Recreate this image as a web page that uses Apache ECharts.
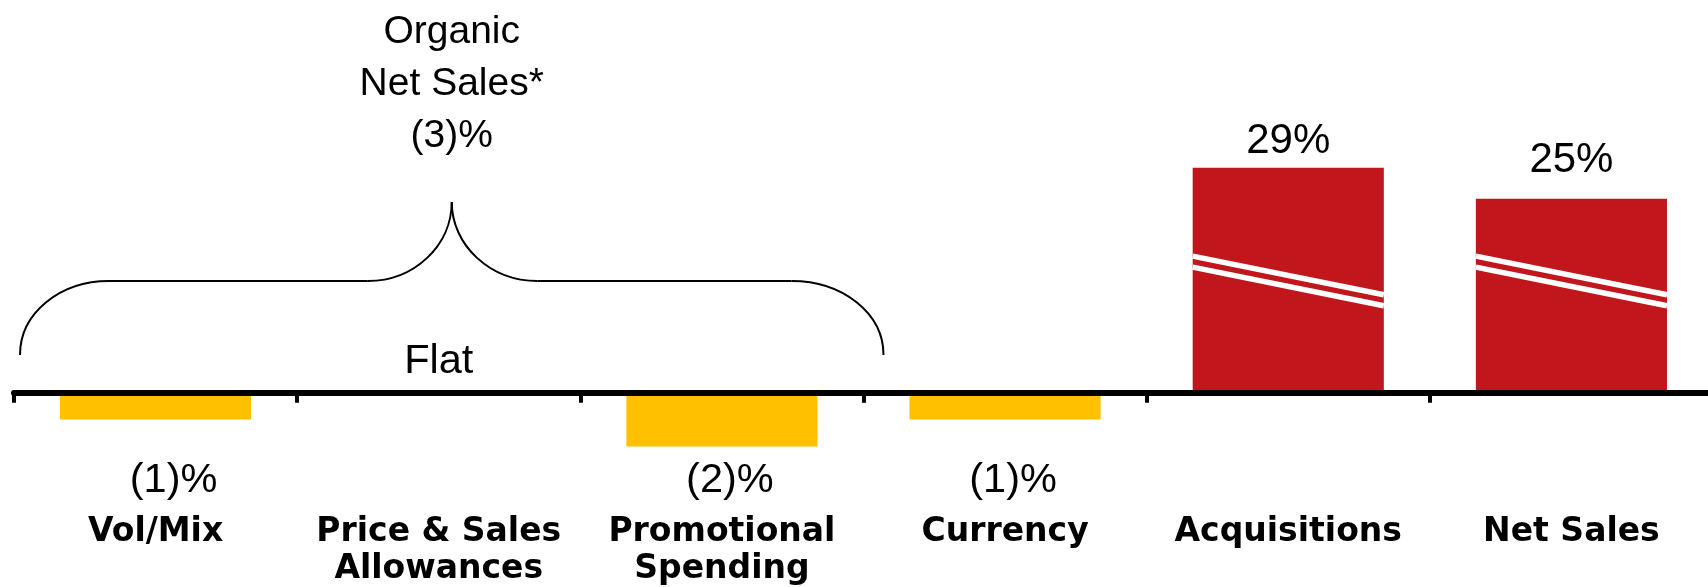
<!DOCTYPE html>
<html>
<head>
<meta charset="utf-8">
<title>Net Sales Bridge</title>
<script src="https://cdn.jsdelivr.net/npm/echarts@6/dist/echarts.min.js"></script>
<style>
  html, body { margin: 0; padding: 0; background: #ffffff; }
  #chart { width: 1708px; height: 587px; }
</style>
</head>
<body>
<div id="chart"></div>
<script>
// ---- data -------------------------------------------------------------
const categories = [
  'Vol/Mix',
  'Price & Sales\nAllowances',
  'Promotional\nSpending',
  'Currency',
  'Acquisitions',
  'Net Sales'
];
// Organic drivers and currency, percent change (yellow bars)
const organicChange = [-1, 0, -2, -1, null, null];
// Acquisitions and total net sales, percent change (red bars, broken scale)
const reportedChange = [null, null, null, null, 29, 25];
// Categories gathered under the "Organic Net Sales" brace
const organicGroup = [0, 1, 2];

// ---- styling ----------------------------------------------------------
const REGULAR = '"Liberation Sans", Arial, sans-serif';
const BOLD = '"DejaVu Sans", sans-serif';
const BAR_GAP = 0.325;          // share of each band left empty
const BREAK_AT = 17.6;          // where the scale-break stripes start on the red scale
const organicLabelShift = [18, 0, 8, 8, 0, 0];   // horizontal nudge of value labels
const reportedLabelLift = [0, 0, 0, 0, -26, -38]; // value label height above bar top

function pct(v) {
  if (v === 0) return 'Flat';
  return v < 0 ? '(' + (-v) + ')%' : v + '%';
}

const organicTotal = organicGroup.reduce((s, i) => s + organicChange[i], 0);

// white double stripe across a red bar, marking the broken scale
function renderBreak(params, api) {
  const idx = api.value(0);
  const band = api.size([1, 0])[0];
  const w = band * (1 - BAR_GAP);
  const cx = api.coord([idx, 0])[0];
  const x0 = cx - w / 2;
  const x1 = cx + w / 2;
  const y0 = api.coord([idx, BREAK_AT])[1];
  const drop = w * 0.202;
  const stripe = dy => ({
    type: 'line',
    shape: { x1: x0, y1: y0 + dy, x2: x1, y2: y0 + dy + drop },
    style: { stroke: '#ffffff', lineWidth: 5.5 }
  });
  return { type: 'group', children: [stripe(0), stripe(11)] };
}

const chart = echarts.init(document.getElementById('chart'), null, { renderer: 'canvas' });

const option = {
  backgroundColor: '#ffffff',
  animation: false,
  grid: {
    left: 14, right: -5, top: 71, bottom: 87,
    containLabel: false,
    outerBoundsMode: 'none'
  },
  xAxis: {
    type: 'category',
    data: categories,
    boundaryGap: true,
    z: 10,
    axisLine: { show: true, onZero: true, lineStyle: { color: '#000000', width: 6 } },
    axisTick: { show: true, length: 10, lineStyle: { color: '#000000', width: 4 } },
    axisLabel: {
      interval: 0,
      margin: 14,
      color: '#000000',
      fontFamily: BOLD,
      fontWeight: 'bold',
      fontSize: 33,
      lineHeight: 37
    },
    splitLine: { show: false }
  },
  yAxis: [
    { type: 'value', min: -4, max: 12, show: false, splitLine: { show: false } },
    { type: 'value', min: -13.82, max: 41.46, show: false, splitLine: { show: false } }
  ],
  series: [
    {
      name: 'Organic',
      type: 'bar',
      yAxisIndex: 0,
      barCategoryGap: (BAR_GAP * 100) + '%',
      barGap: '-100%',
      itemStyle: { color: '#FFC000' },
      label: {
        show: true,
        position: ['50%', 88],
        align: 'center',
        verticalAlign: 'middle',
        formatter: p => pct(p.value),
        fontFamily: REGULAR,
        fontSize: 41.5,
        color: '#000000'
      },
      data: organicChange.map((v, i) => {
        if (v == null) return v;
        if (v === 0) return { value: v, label: { position: ['50%', -31] } };
        return { value: v, label: { offset: [organicLabelShift[i], 0] } };
      })
    },
    {
      name: 'Reported',
      type: 'bar',
      yAxisIndex: 1,
      barCategoryGap: (BAR_GAP * 100) + '%',
      barGap: '-100%',
      itemStyle: { color: '#C1161C' },
      label: {
        show: true,
        align: 'center',
        verticalAlign: 'middle',
        formatter: p => pct(p.value),
        fontFamily: REGULAR,
        fontSize: 42,
        color: '#000000'
      },
      data: reportedChange.map((v, i) => v == null ? v
        : { value: v, label: { position: ['50%', reportedLabelLift[i]] } })
    },
    {
      name: 'Scale break',
      type: 'custom',
      yAxisIndex: 1,
      silent: true,
      clip: false,
      z: 5,
      encode: { x: 0, y: 1 },
      renderItem: renderBreak,
      data: reportedChange
        .map((v, i) => (v == null ? null : [i, v]))
        .filter(d => d !== null)
    }
  ]
};

chart.setOption(option);

// brace and heading over the organic categories, placed from the category axis
const first = organicGroup[0];
const last = organicGroup[organicGroup.length - 1];
const px = i => chart.convertToPixel({ xAxisIndex: 0 }, i);
const band = px(1) - px(0);
const bL = px(first) - band / 2 + 6;
const bR = px(last) + band / 2 + 20;
const tip = (bL + bR) / 2;
const yEnd = 355, yBar = 281, yTip = 202;
const braceStyle = { fill: null, stroke: '#000000', lineWidth: 2 };
const curve = (x1, y1, c1x, c1y, c2x, c2y, x2, y2) => ({
  type: 'bezierCurve', silent: true,
  shape: { x1: x1, y1: y1, cpx1: c1x, cpy1: c1y, cpx2: c2x, cpy2: c2y, x2: x2, y2: y2 },
  style: braceStyle
});
const segment = (x1, y1, x2, y2) => ({
  type: 'line', silent: true,
  shape: { x1: x1, y1: y1, x2: x2, y2: y2 },
  style: braceStyle
});

chart.setOption({
  title: {
    text: 'Organic\nNet Sales*\n' + pct(organicTotal),
    left: tip,
    top: 6,
    textAlign: 'center',
    padding: 0,
    textStyle: {
      fontFamily: REGULAR,
      fontSize: 39,
      fontWeight: 'normal',
      lineHeight: 52,
      color: '#000000'
    }
  },
  graphic: [{
    type: 'group',
    silent: true,
    children: [
      curve(bL, yEnd, bL, yEnd - 42, bL + 40, yBar, bL + 89, yBar),
      segment(bL + 89, yBar, tip - 84, yBar),
      curve(tip - 84, yBar, tip - 37, yBar, tip, yTip + 43, tip, yTip),
      curve(tip, yTip, tip, yTip + 43, tip + 38, yBar, tip + 86, yBar),
      segment(tip + 86, yBar, bR - 92, yBar),
      curve(bR - 92, yBar, bR - 41, yBar, bR, yEnd - 42, bR, yEnd)
    ]
  }]
});
</script>
</body>
</html>
